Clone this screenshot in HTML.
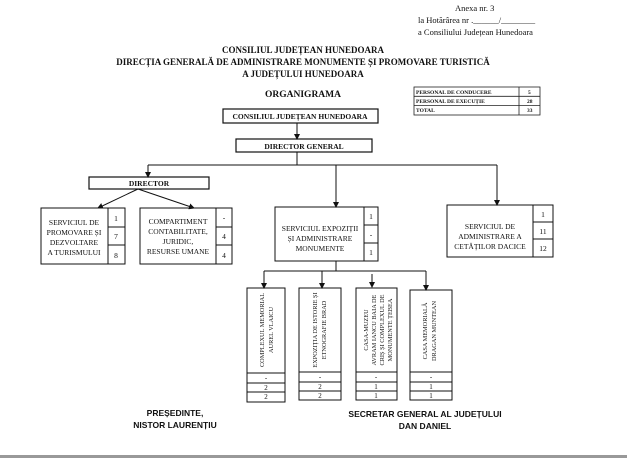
<!DOCTYPE html>
<html><head><meta charset="utf-8"><style>
html,body{margin:0;padding:0;background:#fff;}
svg{display:block;}
text{font-family:"Liberation Serif",serif;fill:#111;}
.b{font-weight:bold;}
.s{font-family:"Liberation Sans",sans-serif;font-weight:bold;}
</style></head><body>
<svg width="627" height="458" viewBox="0 0 627 458" xmlns="http://www.w3.org/2000/svg">
<defs><marker id="a" markerWidth="6" markerHeight="6" refX="5" refY="3" orient="auto" markerUnits="userSpaceOnUse"><path d="M0,0L6,3L0,6z" fill="#111"/></marker></defs>
<rect width="627" height="458" fill="#fff"/>
<rect x="0" y="455" width="627" height="3" fill="#999"/>
<g font-size="8.5">
<text x="455" y="11">Anexa nr. 3</text>
<text x="418" y="23">la Hotărârea nr .______/________</text>
<text x="418" y="35">a Consiliului Județean Hunedoara</text>
</g>
<g font-size="9" class="b" text-anchor="middle">
<text x="303" y="53" class="b">CONSILIUL JUDEȚEAN HUNEDOARA</text>
<text x="303" y="65" class="b">DIRECȚIA GENERALĂ DE ADMINISTRARE MONUMENTE ȘI PROMOVARE TURISTICĂ</text>
<text x="303" y="77" class="b">A JUDEȚULUI HUNEDOARA</text>
<text x="303" y="97" class="b" font-size="9.5">ORGANIGRAMA</text>
</g>
<g stroke="#222" stroke-width="0.8" fill="none">
<rect x="414" y="87" width="126" height="28"/>
<line x1="414" y1="96.3" x2="540" y2="96.3"/><line x1="414" y1="105.6" x2="540" y2="105.6"/>
<line x1="519" y1="87" x2="519" y2="115"/>
</g>
<g font-size="5.5" class="b">
<text x="416" y="94">PERSONAL DE CONDUCERE</text><text x="528" y="94">5</text>
<text x="416" y="103">PERSONAL DE EXECUȚIE</text><text x="527" y="103">28</text>
<text x="416" y="112">TOTAL</text><text x="527" y="112">33</text>
</g>
<g stroke="#111" stroke-width="1" fill="none">
<rect x="223" y="109" width="155" height="14" stroke-width="1.2"/>
<line x1="297" y1="123" x2="297" y2="139" marker-end="url(#a)"/>
<rect x="236" y="139" width="136" height="13" stroke-width="1.2"/>
<line x1="297" y1="152" x2="297" y2="165"/>
<line x1="148" y1="165" x2="497" y2="165"/>
<line x1="148" y1="165" x2="148" y2="177" marker-end="url(#a)"/>
<line x1="336" y1="165" x2="336" y2="207" marker-end="url(#a)"/>
<line x1="497" y1="165" x2="497" y2="205" marker-end="url(#a)"/>
<rect x="89" y="177" width="120" height="12" stroke-width="1.2"/>
<line x1="138" y1="189" x2="98" y2="208" marker-end="url(#a)"/>
<line x1="138" y1="189" x2="194" y2="208" marker-end="url(#a)"/>
<rect x="41" y="208" width="84" height="56"/><line x1="108" y1="208" x2="108" y2="264"/>
<line x1="108" y1="227" x2="125" y2="227"/><line x1="108" y1="245" x2="125" y2="245"/>
<rect x="140" y="208" width="92" height="56"/><line x1="216" y1="208" x2="216" y2="264"/>
<line x1="216" y1="227" x2="232" y2="227"/><line x1="216" y1="245" x2="232" y2="245"/>
<rect x="275" y="207" width="103" height="54"/><line x1="364" y1="207" x2="364" y2="261"/>
<line x1="364" y1="225" x2="378" y2="225"/><line x1="364" y1="243" x2="378" y2="243"/>
<rect x="447" y="205" width="106" height="52"/><line x1="533" y1="205" x2="533" y2="257"/>
<line x1="533" y1="222" x2="553" y2="222"/><line x1="533" y1="239" x2="553" y2="239"/>
<line x1="336" y1="261" x2="336" y2="271"/>
<line x1="264" y1="271" x2="426" y2="271"/>
<line x1="264" y1="271" x2="264" y2="288" marker-end="url(#a)"/>
<line x1="322" y1="271" x2="322" y2="288" marker-end="url(#a)"/>
<line x1="372" y1="274" x2="372" y2="287" marker-end="url(#a)"/>
<line x1="426" y1="271" x2="426" y2="290" marker-end="url(#a)"/>
<rect x="247" y="288" width="38" height="114"/><line x1="247" y1="373" x2="285" y2="373"/><line x1="247" y1="383" x2="285" y2="383"/><line x1="247" y1="392" x2="285" y2="392"/>
<rect x="299" y="288" width="42" height="112"/><line x1="299" y1="372" x2="341" y2="372"/><line x1="299" y1="382" x2="341" y2="382"/><line x1="299" y1="391" x2="341" y2="391"/>
<rect x="356" y="288" width="41" height="112"/><line x1="356" y1="372" x2="397" y2="372"/><line x1="356" y1="382" x2="397" y2="382"/><line x1="356" y1="391" x2="397" y2="391"/>
<rect x="410" y="290" width="42" height="110"/><line x1="410" y1="372" x2="452" y2="372"/><line x1="410" y1="382" x2="452" y2="382"/><line x1="410" y1="391" x2="452" y2="391"/>
</g>
<g font-size="7.5" class="b" text-anchor="middle">
<text x="300" y="119">CONSILIUL JUDEȚEAN HUNEDOARA</text>
<text x="304" y="149">DIRECTOR GENERAL</text>
<text x="149" y="186">DIRECTOR</text>
</g>
<g font-size="7.5" text-anchor="middle">
<text x="74" y="225">SERVICIUL DE</text><text x="74" y="235">PROMOVARE ȘI</text><text x="74" y="245">DEZVOLTARE</text><text x="74" y="255">A TURISMULUI</text>
<text x="116" y="221">1</text><text x="116" y="239">7</text><text x="116" y="258">8</text>
<text x="178" y="224">COMPARTIMENT</text><text x="178" y="234">CONTABILITATE,</text><text x="178" y="244">JURIDIC,</text><text x="178" y="254">RESURSE UMANE</text>
<text x="224" y="220">-</text><text x="224" y="239">4</text><text x="224" y="258">4</text>
<text x="320" y="231">SERVICIUL EXPOZIȚII</text><text x="320" y="241">ȘI ADMINISTRARE</text><text x="320" y="251">MONUMENTE</text>
<text x="371" y="219">1</text><text x="371" y="237">-</text><text x="371" y="255">1</text>
<text x="490" y="229">SERVICIUL DE</text><text x="490" y="239">ADMINISTRARE A</text><text x="490" y="249">CETĂȚILOR  DACICE</text>
<text x="543" y="217">1</text><text x="543" y="234">11</text><text x="543" y="251">12</text>
</g>
<g font-size="6.3" text-anchor="middle">
<text transform="translate(264,330) rotate(-90)">COMPLEXUL MEMORIAL</text>
<text transform="translate(273,330) rotate(-90)">AUREL VLAICU</text>
<text transform="translate(317,330) rotate(-90)">EXPOZIȚIA DE ISTORIE ȘI</text>
<text transform="translate(326,330) rotate(-90)">ETNOGRAFIE BRAD</text>
<text transform="translate(368,330) rotate(-90)">CASA-MUZEU</text>
<text transform="translate(376,330) rotate(-90)">AVRAM IANCU BAIA DE</text>
<text transform="translate(384,330) rotate(-90)">CRIȘ ȘI COMPLEXUL DE</text>
<text transform="translate(392,330) rotate(-90)">MONUMENTE ȚEBEA</text>
<text transform="translate(427,331) rotate(-90)">CASA MEMORIALĂ</text>
<text transform="translate(436,331) rotate(-90)">DRAGAN MUNTEAN</text>
</g>
<g font-size="7" text-anchor="middle">
<text x="266" y="380">-</text><text x="266" y="390">2</text><text x="266" y="399">2</text>
<text x="320" y="379">-</text><text x="320" y="389">2</text><text x="320" y="398">2</text>
<text x="376" y="379">-</text><text x="376" y="389">1</text><text x="376" y="398">1</text>
<text x="431" y="379">-</text><text x="431" y="389">1</text><text x="431" y="398">1</text>
</g>
<g font-size="8.5" class="s" text-anchor="middle">
<text x="175" y="416" class="s">PREȘEDINTE,</text>
<text x="175" y="428" class="s">NISTOR LAURENȚIU</text>
<text x="425" y="417" class="s">SECRETAR GENERAL AL JUDEȚULUI</text>
<text x="425" y="429" class="s">DAN DANIEL</text>
</g>
</svg>
</body></html>
